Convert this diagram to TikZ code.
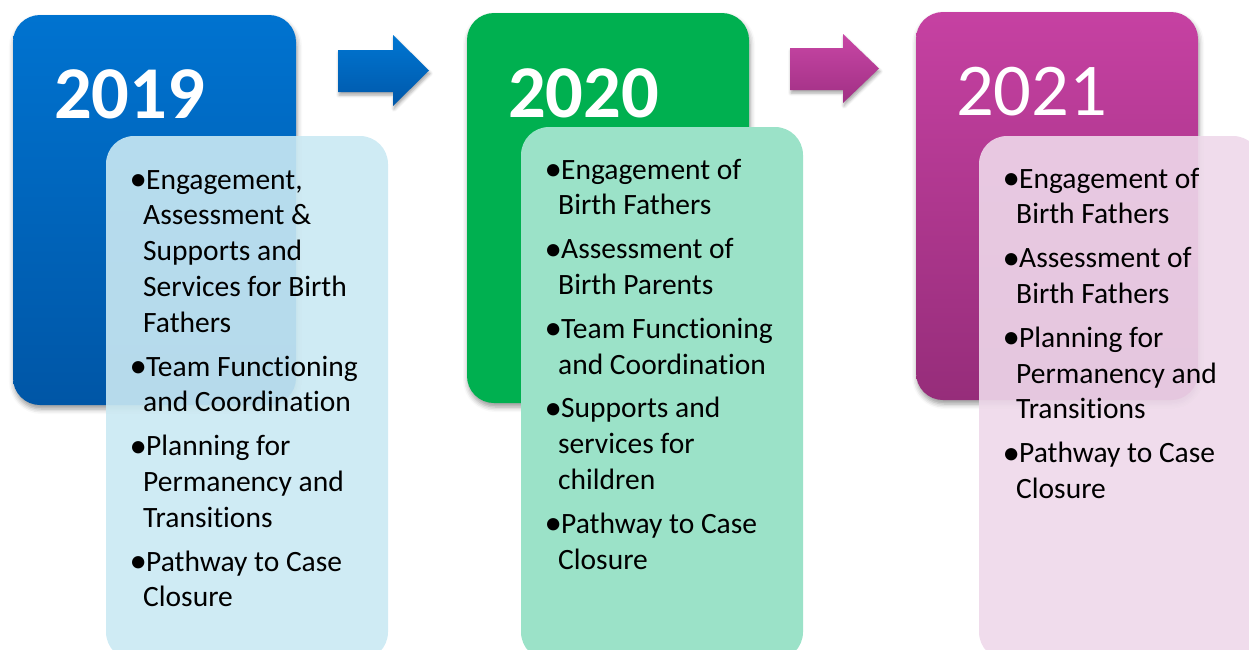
\documentclass[tikz,border=0pt]{standalone}
\usepackage{fontspec}
\setmainfont{Carlito}[Ligatures=NoCommon]
\usetikzlibrary{shadows.blur}

\definecolor{blueTop}{RGB}{0,115,208}
\definecolor{blueBot}{RGB}{0,86,166}
\definecolor{blueLight}{RGB}{202,233,243}
\definecolor{greenDark}{RGB}{0,176,80}
\definecolor{greenLight}{RGB}{155,226,200}
\definecolor{pinkTop}{RGB}{198,65,162}
\definecolor{pinkBot}{RGB}{150,45,122}
\definecolor{pinkLight}{RGB}{238,216,234}
\definecolor{arrowBlueTop}{RGB}{0,118,210}
\definecolor{arrowBlueBot}{RGB}{0,88,170}
\definecolor{arrowPinkTop}{RGB}{200,70,165}
\definecolor{arrowPinkBot}{RGB}{160,48,132}

% bullet on the first line of an item, indent on the following lines
\newcommand{\bl}{\makebox[14pt][l]{\hspace*{-2.5pt}\raisebox{-0.06em}{\scalebox{1.18}{•}}}}
\newcommand{\ct}{\hspace*{11pt}}

\tikzset{
  yearbox/.style={rectangle, rounded corners=27pt, minimum width=283pt,
    minimum height=390pt, inner sep=0pt,
    blur shadow={shadow xshift=1pt, shadow yshift=-4pt,
      shadow blur radius=5pt, shadow opacity=40}},
  listbox/.style={rectangle, rounded corners=28pt, minimum width=282pt,
    minimum height=524pt, inner sep=0pt},
  yeartext/.style={anchor=base west, inner sep=0pt, text=white,
    font=\fontsize{74.5}{80}\selectfont},
  listtext/.style={anchor=base west, inner sep=0pt, text=black},
  bigarrow/.style={blur shadow={shadow xshift=1pt, shadow yshift=-3pt,
      shadow blur radius=3pt, shadow opacity=35}},
}

\newcommand{\itemlist}[1]{\parbox[t]{320pt}{\fontsize{29.5}{35.8}\selectfont
  \raggedright #1}}

\begin{document}
\begin{tikzpicture}[x=1pt, y=-1pt]
  \useasboundingbox (0,0) rectangle (1249,649);
  \clip (0,0) rectangle (1249,649);

  % year panels
  \node[yearbox, top color=blueTop, bottom color=blueBot] (p19) at (154.5,210) {};
  \node[yearbox, fill=greenDark, minimum width=282pt] (p20) at (608,208) {};
  \node[yearbox, top color=pinkTop, bottom color=pinkBot, minimum width=282pt,
        minimum height=388pt] (p21) at (1057,206) {};

  % step arrows
  \path[bigarrow, top color=arrowBlueTop, bottom color=arrowBlueBot]
    (338,50) -- (393,50) -- (393,35) -- (429,70.5) -- (393,106) -- (393,92)
    -- (338,92) -- cycle;
  \path[bigarrow, top color=arrowPinkTop, bottom color=arrowPinkBot]
    (790,48) -- (843,48) -- (843,34) -- (879,68.5) -- (843,103) -- (843,90)
    -- (790,90) -- cycle;

  % list panels
  \node[listbox, fill=blueLight, fill opacity=0.9] (l19) at (247,398) {};
  \node[listbox, fill=greenLight, minimum height=533pt] (l20) at (662,393.5) {};
  \node[listbox, fill=pinkLight, fill opacity=0.9] (l21) at (1120,398) {};

  % years
  \node[yeartext, font=\fontsize{74.5}{80}\selectfont\bfseries] (y19) at (54,118) {2019};
  \node[yeartext, font=\fontsize{74.5}{80}\selectfont\bfseries] (y20) at (508,117) {2020};
  \node[yeartext] (y21) at (956,115) {2021};

  % topics
  \node[listtext] (t19) at (132,189) {\itemlist{%
    \bl Engagement,\\ \ct Assessment \&\\ \ct Supports and\\
    \ct Services for Birth\\ \ct Fathers\\[8pt]
    \bl Team Functioning\\ \ct and Coordination\\[8pt]
    \bl Planning for\\ \ct Permanency and\\ \ct Transitions\\[8pt]
    \bl Pathway to Case\\ \ct Closure}};
  \node[listtext] (t20) at (547,179) {\itemlist{%
    \bl Engagement of\\ \ct Birth Fathers\\[8pt]
    \bl Assessment of\\ \ct Birth Parents\\[8pt]
    \bl Team Functioning\\ \ct and Coordination\\[8pt]
    \bl Supports and\\ \ct services for\\ \ct children\\[8pt]
    \bl Pathway to Case\\ \ct Closure}};
  \node[listtext] (t21) at (1005,188) {\itemlist{%
    \bl Engagement of\\ \ct Birth Fathers\\[8pt]
    \bl Assessment of\\ \ct Birth Fathers\\[8pt]
    \bl Planning for\\ \ct Permanency and\\ \ct Transitions\\[8pt]
    \bl Pathway to Case\\ \ct Closure}};
\end{tikzpicture}
\end{document}
